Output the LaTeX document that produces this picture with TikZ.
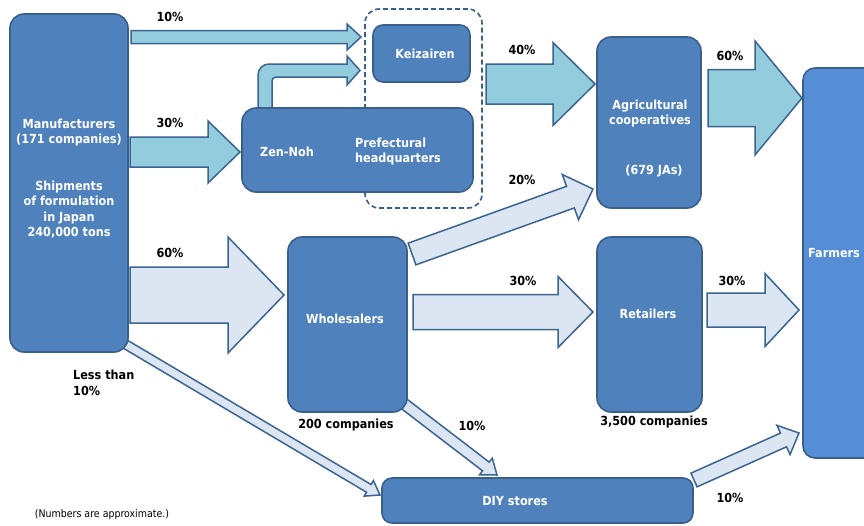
\documentclass[tikz,border=0pt]{standalone}
\usepackage{fontspec}
\setmainfont{DejaVu Sans Condensed}
\usetikzlibrary{calc}
\definecolor{boxfill}{HTML}{4F81BD}
\definecolor{boxline}{HTML}{3A5F8B}
\definecolor{farmfill}{HTML}{558ED5}
\definecolor{cyanfill}{HTML}{93CDDD}
\definecolor{lightfill}{HTML}{DCE6F2}
\definecolor{arrline}{HTML}{3B6491}
\tikzset{
  box/.style={draw=boxline, fill=boxfill, line width=1.6pt, rounded corners=14pt, inner sep=0pt},
  boxtext/.style={text=white, font=\bfseries\fontsize{12.5}{15.3}\selectfont, align=center, inner sep=0pt},
  lbl/.style={text=black, font=\bfseries\fontsize{12.5}{16}\selectfont, align=left, inner sep=0pt},
  arrowline/.style={draw=arrline, line width=1.5pt, line join=miter},
}
% from, to, body half, head half, head length, fill
\newcommand{\blockarrow}[6]{%
  \coordinate (tmpQ) at ($(#2)!#5!(#1)$);
  \draw[arrowline, fill=#6]
    ($(#1)!#3!90:(#2)$) --
    ($(tmpQ)!#3!90:(#2)$) --
    ($(tmpQ)!#4!90:(#2)$) --
    (#2) --
    ($(tmpQ)!#4!-90:(#2)$) --
    ($(tmpQ)!#3!-90:(#2)$) --
    ($(#1)!#3!-90:(#2)$) -- cycle;
}
\begin{document}
\begin{tikzpicture}[x=1pt,y=-1pt]
\useasboundingbox (0,0) rectangle (864,525);
\clip (0,0) rectangle (864,525);

% coordinates for connectors
\coordinate (a1s) at (131,37);  \coordinate (a1e) at (361,37);
\coordinate (a2s) at (130,152); \coordinate (a2e) at (240,152);
\coordinate (a3s) at (486,84);  \coordinate (a3e) at (595,84);
\coordinate (a4s) at (708,98);  \coordinate (a4e) at (802,98);
\coordinate (a5s) at (130,295); \coordinate (a5e) at (284,295);
\coordinate (a6s) at (413,312); \coordinate (a6e) at (593,312);
\coordinate (a7s) at (707,310); \coordinate (a7e) at (799,310);
\coordinate (a8s) at (412,254); \coordinate (a8e) at (593,189);
\coordinate (a9s) at (125,344); \coordinate (a9e) at (380,495);
\coordinate (a10s) at (403,403); \coordinate (a10e) at (497,475);
\coordinate (a11s) at (694,480); \coordinate (a11e) at (799,433);

\blockarrow{a1s}{a1e}{6.5pt}{13pt}{14pt}{cyanfill}
\blockarrow{a2s}{a2e}{15pt}{31pt}{32pt}{cyanfill}
\blockarrow{a3s}{a3e}{20pt}{41.5pt}{42pt}{cyanfill}
\blockarrow{a4s}{a4e}{28.5pt}{57pt}{47pt}{cyanfill}
\blockarrow{a5s}{a5e}{28pt}{58pt}{56pt}{lightfill}
\blockarrow{a6s}{a6e}{17.5pt}{35.5pt}{35pt}{lightfill}
\blockarrow{a7s}{a7e}{17pt}{36.5pt}{34pt}{lightfill}
\blockarrow{a8s}{a8e}{11.5pt}{24pt}{24pt}{lightfill}
\blockarrow{a9s}{a9e}{4.5pt}{9pt}{13pt}{lightfill}
\blockarrow{a10s}{a10e}{5.5pt}{10.5pt}{14pt}{lightfill}
\blockarrow{a11s}{a11e}{7.5pt}{16pt}{17pt}{lightfill}

% bent arrow Zen-Noh -> Keizairen
\draw[arrowline, fill=cyanfill]
  (258,112) [rounded corners=11pt]-- (258,64) [sharp corners]-- (347,64) -- (347,56) -- (360,70.5) -- (347,85) -- (347,77)
  [rounded corners=4pt]-- (272,77) [sharp corners]-- (272,112) -- cycle;

% dashed group (behind boxes)
\node[draw=boxline, line width=1.6pt, rounded corners=14pt, minimum width=117pt, minimum height=199pt, inner sep=0pt, dash pattern=on 5pt off 3pt] (grp) at (423.5,108.5) {};

% boxes
\node[box, minimum width=118pt, minimum height=338pt] (man) at (69,183) {};
\node[box, minimum width=231pt, minimum height=84pt] (zen) at (357.5,150) {};
\node[box, minimum width=97pt, minimum height=57pt, rounded corners=10pt] (kei) at (421.5,53.5) {};
\node[box, minimum width=104pt, minimum height=171pt] (agri) at (649,122.5) {};
\node[box, fill=farmfill, minimum width=120pt, minimum height=390pt, rounded corners=12pt] (farm) at (863,263) {};
\node[box, minimum width=119pt, minimum height=175pt] (whole) at (347.5,324.5) {};
\node[box, minimum width=105pt, minimum height=175pt] (ret) at (649.5,324.5) {};
\node[box, minimum width=311pt, minimum height=45pt, rounded corners=10pt] (diy) at (537.5,500.5) {};

% box texts
\node[boxtext] (mant1) at (69,132.5) {Manufacturers\\(171 companies)};
\node[boxtext] (mant2) at (69,209.5) {Shipments\\of formulation\\in Japan\\240,000 tons};
\node[boxtext] (zent) at (287,152) {Zen-Noh};
\node[boxtext, anchor=west, align=left] (preft) at (355,151.5) {Prefectural\\headquarters};
\node[boxtext] (keit) at (425,54) {Keizairen};
\node[boxtext] (agrit) at (650,113.5) {Agricultural\\cooperatives};
\node[boxtext] (jat) at (654,171) {(679 JAs)};
\node[boxtext, anchor=west] (farmt) at (808,253) {Farmers};
\node[boxtext] (wholet) at (345,318.5) {Wholesalers};
\node[boxtext] (rett) at (648,314) {Retailers};
\node[boxtext] (diyt) at (515,501) {DIY stores};

% labels
\node[lbl] (l1) at (170,17) {10\%};
\node[lbl] (l2) at (170,123) {30\%};
\node[lbl] (l3) at (170,253) {60\%};
\node[lbl] (l4) at (522,50) {40\%};
\node[lbl] (l5) at (522,180) {20\%};
\node[lbl] (l6) at (730,56) {60\%};
\node[lbl] (l7) at (523,281) {30\%};
\node[lbl] (l8) at (732,281) {30\%};
\node[lbl, anchor=west] (l9) at (73,383) {Less than\\10\%};
\node[lbl] (l10) at (346,425) {200 companies};
\node[lbl] (l11) at (472,426) {10\%};
\node[lbl] (l12) at (654,422) {3,500 companies};
\node[lbl] (l13) at (730,498) {10\%};
\node[text=black, font=\fontsize{10.5}{12}\selectfont, inner sep=0pt] (note) at (102,515) {(Numbers are approximate.)};
\end{tikzpicture}
\end{document}
